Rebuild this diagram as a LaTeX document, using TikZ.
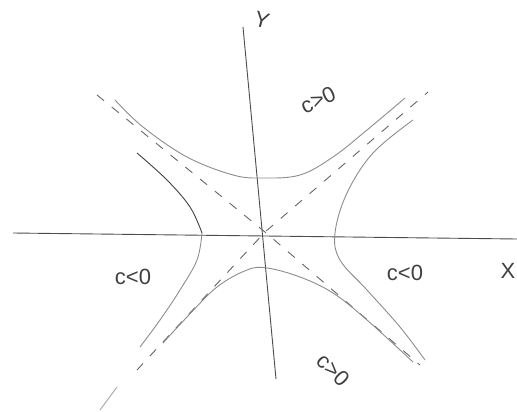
\documentclass[tikz,border=0pt]{standalone}
\usepackage{fontspec}
\setmainfont{Liberation Sans}
\begin{document}
\begin{tikzpicture}[x=1pt,y=-1pt,
  axis/.style={draw=black!70,line width=0.9pt},
  curve/.style={draw=black!45,line width=0.9pt},
  asym/.style={draw=black!60,line width=0.9pt,dash pattern=on 9pt off 10pt},
  lbl/.style={font=\fontsize{22}{22}\selectfont,text=black!75,inner sep=0pt}]
\useasboundingbox (0,0) rectangle (517,412);
% axes
\coordinate (xl) at (13,233);
\coordinate (xr) at (517,239);
\coordinate (yt) at (243,27);
\coordinate (yb) at (276,379);
\coordinate (o) at (265,232);
\draw[axis] (xl) -- (xr);
\draw[axis] (yt) -- (yb);
\node[lbl,rotate=-15] (ylab) at (262,20) {Y};
\node[lbl] (xlab) at (508,271) {X};
% asymptotes
\coordinate (a1) at (97,95);
\coordinate (a2) at (420,365);
\coordinate (b1) at (137,370);
\coordinate (b2) at (428,92);
\draw[asym] (a1) -- (o) -- (a2);
\draw[asym] (b1) -- (o) -- (b2);
% hyperbolas c>0
\draw[curve] plot[smooth,tension=0.6] coordinates {(115,100) (143,127) (187,157) (233,175) (263,178) (300,175) (333,157) (367,130) (405,98)};
\draw[curve] plot[smooth,tension=0.6] coordinates {(163,343) (187,317) (217,287) (247,270) (267,268) (300,277) (333,293) (367,320) (413,362)};
% hyperbolas c<0
\draw[curve,draw=black!75] plot[smooth,tension=0.6] coordinates {(137,153) (167,180) (190,207) (202,233)};
\draw[curve] plot[smooth,tension=0.6] coordinates {(202,233) (197,260) (180,290) (160,320) (140,347)};
\draw[curve] plot[smooth,tension=0.6] coordinates {(413,120) (373,153) (347,193) (335,233) (340,260) (367,290) (400,327) (425,360)};
% stray mark
\coordinate (s1) at (100,410);
\coordinate (s2) at (117,387);
\draw[curve,draw=black!35] (s1) -- (s2);
% labels
\node[lbl,rotate=25] (cp1) at (318,100) {c>0};
\node[lbl] (cn1) at (133,277) {c<0};
\node[lbl] (cn2) at (405,273) {c<0};
\node[lbl,rotate=-45] (cp2) at (333,370) {c>0};
\end{tikzpicture}
\end{document}
